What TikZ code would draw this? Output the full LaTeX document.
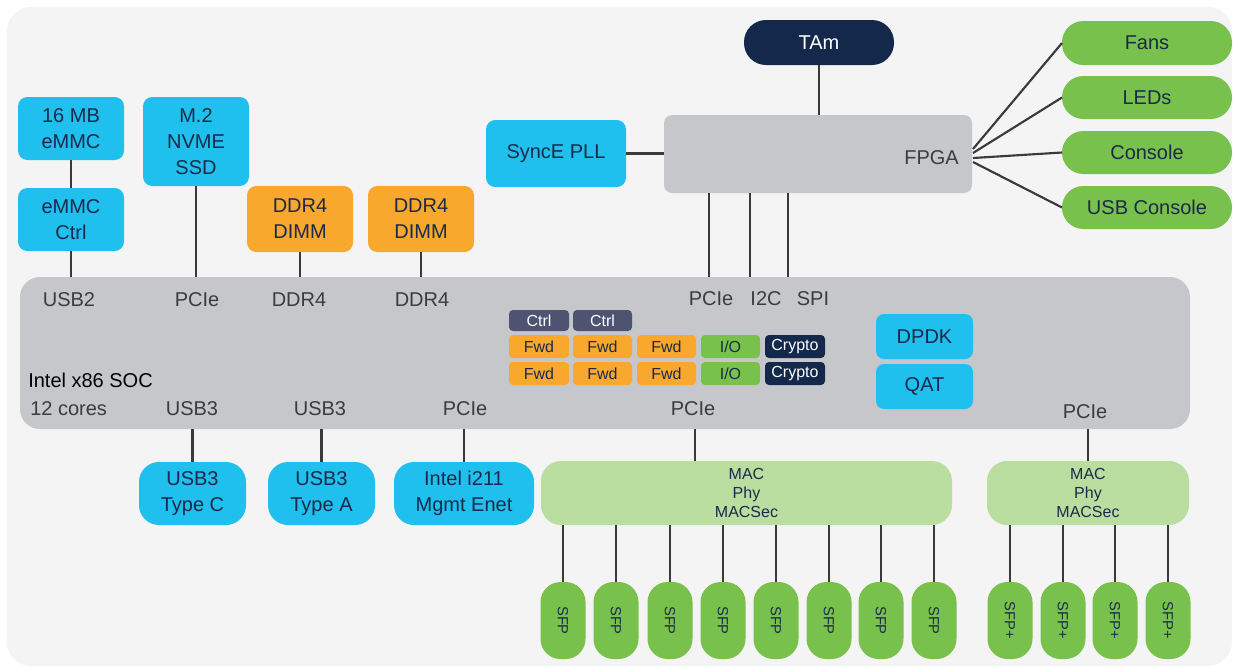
\documentclass[tikz,border=0pt]{standalone}
\usepackage{fontspec}
\usepackage{graphicx}
\setmainfont{Liberation Sans}
\definecolor{bgc}{HTML}{F4F4F4}
\definecolor{sky}{HTML}{1FBFEE}
\definecolor{orng}{HTML}{F8A82D}
\definecolor{socg}{HTML}{C6C7CA}
\definecolor{grn}{HTML}{78C14C}
\definecolor{lgrn}{HTML}{B9DEA0}
\definecolor{navy}{HTML}{14284B}
\definecolor{slate}{HTML}{4E5372}
\definecolor{txt}{HTML}{1B2A4A}
\definecolor{lbl}{HTML}{3C3C3C}
\definecolor{wire}{HTML}{3A3A3A}
\newcommand\mainf{\fontsize{15}{19.5}\selectfont}
\newcommand\smallf{\fontsize{12}{14}\selectfont}
\newcommand\macf{\fontsize{12}{14.25}\selectfont}
\newcommand\sfpf{\fontsize{11}{13}\selectfont}
\newcommand\bx[7]{\node[#6, minimum width={((#4)-(#2))*0.75pt}, minimum height={((#5)-(#3))*0.75pt}] (#1) at ({((#2)+(#4))/2},{((#3)+(#5))/2}) {#7};}
\tikzset{
  base/.style={inner sep=0pt, outer sep=0pt, align=center, font=\mainf, text=txt},
  bluebox/.style={base, fill=sky, rounded corners=7pt},
  bluepill/.style={base, fill=sky, rounded corners=15pt},
  orangebox/.style={base, fill=orng, rounded corners=7pt},
  graybox/.style={base, fill=socg, rounded corners=6pt},
  socbox/.style={base, fill=socg, rounded corners=15pt},
  navypill/.style={base, fill=navy, text=white, rounded corners=16.5pt},
  greenpill/.style={base, fill=grn, rounded corners=16pt},
  macbox/.style={base, fill=lgrn, font=\macf, rounded corners=15pt},
  sfpbox/.style={base, fill=grn, font=\sfpf, rounded corners=15pt},
  chip/.style={base, font=\smallf, rounded corners=3pt},
  dpdk/.style={base, fill=sky, rounded corners=6pt},
  soclbl/.style={inner sep=0pt, font=\mainf, text=lbl},
  wireln/.style={draw=wire, line width=1.6pt},
}
\begin{document}
\begin{tikzpicture}[x=0.75pt, y=-0.75pt]
\useasboundingbox (0,0) rectangle (1233,669);
\fill[white] (0,0) rectangle (1233,669);
\fill[bgc, rounded corners=18pt] (7,7) rectangle (1232,666);

% top left
\bx{emmc}{18}{97}{124}{160}{bluebox}{16 MB\\eMMC}
\bx{emmcctrl}{18}{188}{124}{251}{bluebox}{eMMC\\Ctrl}
\bx{nvme}{143}{97}{249}{186}{bluebox}{M.2\\NVME\\SSD}
\bx{ddrA}{247}{186}{353}{252}{orangebox}{DDR4\\DIMM}
\bx{ddrB}{368}{186}{474}{252}{orangebox}{DDR4\\DIMM}
\bx{sync}{486}{120}{626}{187}{bluebox}{SyncE PLL}
\bx{fpga}{664}{115}{972}{193}{graybox}{}
\node[soclbl, anchor=east] (fpgalbl) at (959,158) {FPGA};
\bx{tam}{744}{20}{894}{65}{navypill}{TAm}
\bx{fans}{1062}{21}{1232}{65}{greenpill}{Fans}
\bx{leds}{1062}{76}{1232}{119}{greenpill}{LEDs}
\bx{cons}{1062}{131}{1232}{174}{greenpill}{Console}
\bx{usbcons}{1062}{186}{1232}{229}{greenpill}{USB Console}

% SOC
\bx{soc}{20}{277}{1190}{429}{socbox}{}
\node[soclbl] (l1) at (69,300) {USB2};
\node[soclbl] (l2) at (197,300) {PCIe};
\node[soclbl] (l3) at (299,300) {DDR4};
\node[soclbl] (l4) at (422,300) {DDR4};
\node[soclbl] (l5) at (711,299) {PCIe};
\node[soclbl] (l6) at (766,299) {I2C};
\node[soclbl] (l7) at (813,299) {SPI};
\node[soclbl, anchor=west, text=black] (socname) at (28,380) {Intel x86 SOC};
\node[soclbl, anchor=west] (cores) at (30,409) {12 cores};
\node[soclbl] (b1) at (192,409) {USB3};
\node[soclbl] (b2) at (320,409) {USB3};
\node[soclbl] (b3) at (465,409) {PCIe};
\node[soclbl] (b4) at (693,409) {PCIe};
\node[soclbl] (b5) at (1085,412) {PCIe};

% cores
\bx{c1}{509}{310}{569}{331}{chip, fill=slate, text=white}{Ctrl}
\bx{c2}{573}{310}{632}{331}{chip, fill=slate, text=white}{Ctrl}
\bx{f11}{509}{335}{569}{358}{chip, fill=orng}{Fwd}
\bx{f12}{573}{335}{632}{358}{chip, fill=orng}{Fwd}
\bx{f13}{637}{335}{696}{358}{chip, fill=orng}{Fwd}
\bx{io1}{701}{335}{760}{358}{chip, fill=grn}{I/O}
\bx{cr1}{765}{335}{825}{358}{chip, fill=navy, text=white}{Crypto}
\bx{f21}{509}{362}{569}{385}{chip, fill=orng}{Fwd}
\bx{f22}{573}{362}{632}{385}{chip, fill=orng}{Fwd}
\bx{f23}{637}{362}{696}{385}{chip, fill=orng}{Fwd}
\bx{io2}{701}{362}{760}{385}{chip, fill=grn}{I/O}
\bx{cr2}{765}{362}{825}{385}{chip, fill=navy, text=white}{Crypto}
\bx{dpdkn}{876}{314}{973}{359}{dpdk}{DPDK}
\bx{qat}{876}{364}{973}{409}{dpdk}{QAT}

% bottom
\bx{usbc}{139}{462}{246}{525}{bluepill}{USB3\\Type C}
\bx{usba}{268}{462}{375}{525}{bluepill}{USB3\\Type A}
\bx{i211}{394}{462}{534}{525}{bluepill}{Intel i211\\Mgmt Enet}
\bx{mac1}{541}{461}{952}{525}{macbox}{MAC\\Phy\\MACSec}
\bx{mac2}{987}{461}{1189}{525}{macbox}{MAC\\Phy\\MACSec}

\foreach \n/\x in {1/563,2/616,3/670,4/723,5/776,6/829,7/881,8/934}{
  \bx{sfp\n}{\x-22.5}{582}{\x+22.5}{659}{sfpbox}{\rotatebox{-90}{SFP}}
  \draw[wireln] (sfp\n.north) -- (sfp\n.north |- mac1.south);
}
\foreach \n/\x in {1/1010,2/1063,3/1115,4/1168}{
  \bx{sfpp\n}{\x-22.5}{582}{\x+22.5}{659}{sfpbox}{\rotatebox{-90}{SFP+}}
  \draw[wireln] (sfpp\n.north) -- (sfpp\n.north |- mac2.south);
}

% wires
\draw[wireln] (emmc.south) -- (emmcctrl.north);
\draw[wireln] (emmcctrl.south) -- (emmcctrl.south |- soc.north);
\draw[wireln] (nvme.south) -- (nvme.south |- soc.north);
\draw[wireln] (ddrA.south) -- (ddrA.south |- soc.north);
\draw[wireln] (ddrB.south) -- (ddrB.south |- soc.north);
\draw[wireln] (sync.east) -- (sync.east -| fpga.west);
\draw[wireln] (tam.south) -- (tam.south |- fpga.north);
\coordinate (p1) at (709,200);
\coordinate (p2) at (750,200);
\coordinate (p3) at (788,200);
\foreach \p in {p1,p2,p3}{\draw[wireln] (\p |- fpga.south) -- (\p |- soc.north);}
\coordinate (s1) at (973,149);
\coordinate (s2) at (973,153);
\coordinate (s3) at (973,158);
\coordinate (s4) at (973,162);
\draw[wireln] (s1) -- (fans.west);
\draw[wireln] (s2) -- (leds.west);
\draw[wireln] (s3) -- (cons.west);
\draw[wireln] (s4) -- (usbcons.west);
\draw[wireln] (usbc.north) -- (usbc.north |- soc.south);
\draw[wireln] (usba.north) -- (usba.north |- soc.south);
\draw[wireln] (i211.north) -- (i211.north |- soc.south);
\coordinate (m1) at (695,440);
\draw[wireln] (m1 |- soc.south) -- (m1 |- mac1.north);
\draw[wireln] (mac2.north) -- (mac2.north |- soc.south);
\end{tikzpicture}
\end{document}
